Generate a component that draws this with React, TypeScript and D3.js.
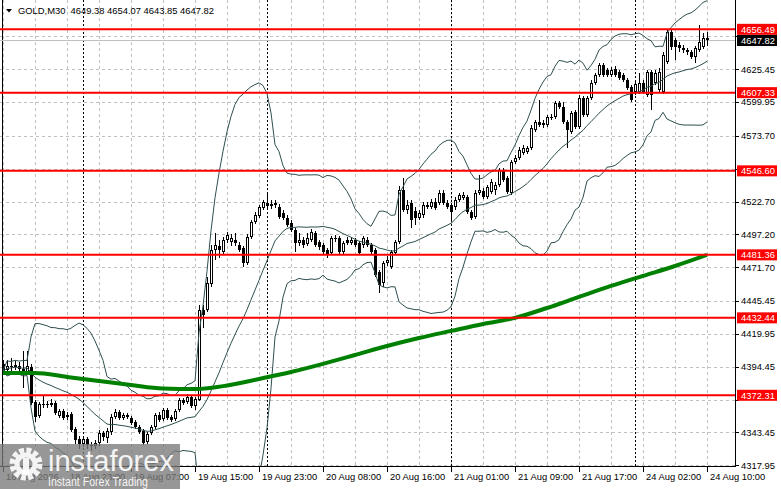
import { useEffect } from "react";
import * as d3 from "d3";

// GOLD M30, one entry per bar (oldest first)
const OPEN = [
  4396.7, 4392.0, 4395.1, 4394.3, 4395.1, 4392.8, 4390.4, 4394.3, 4367.1, 4356.3,
  4364.8, 4365.6, 4364.8, 4366.4, 4356.3, 4360.1, 4355.5, 4357.8, 4346.2, 4338.4,
  4334.5, 4338.4, 4333.7, 4332.9, 4335.3, 4343.1, 4339.2, 4343.8, 4355.5, 4359.4,
  4354.7, 4357.1, 4354.7, 4351.6, 4347.7, 4344.6, 4336.0, 4343.1, 4347.7, 4357.1,
  4354.0, 4360.9, 4355.5, 4354.0, 4360.9, 4368.7, 4367.1, 4371.0, 4364.0, 4368.7,
  4438.6, 4438.6, 4458.8, 4485.2, 4488.3, 4483.6, 4492.9, 4491.4, 4492.9, 4489.0,
  4486.7, 4475.1, 4495.3, 4506.9, 4511.6, 4517.8, 4521.7, 4519.3, 4520.1, 4518.6,
  4513.9, 4510.0, 4506.1, 4500.7, 4490.6, 4492.9, 4489.8, 4492.9, 4498.4, 4491.4,
  4489.0, 4485.2, 4482.8, 4494.5, 4494.5, 4483.6, 4492.9, 4490.6, 4492.9, 4490.6,
  4489.0, 4492.9, 4489.0, 4485.2, 4468.1, 4459.5, 4475.1, 4472.0, 4482.8, 4491.4,
  4531.8, 4516.2, 4521.7, 4515.4, 4510.0, 4512.3, 4518.6, 4518.6, 4522.5, 4521.7,
  4529.4, 4521.7, 4520.1, 4518.6, 4524.0, 4525.6, 4526.3, 4514.7, 4510.8, 4529.4,
  4531.0, 4526.3, 4530.2, 4531.8, 4535.6, 4547.3, 4541.1, 4529.4, 4553.5, 4556.6,
  4560.5, 4561.3, 4564.4, 4578.4, 4584.6, 4583.8, 4582.2, 4587.7, 4588.4, 4599.3,
  4596.2, 4584.6, 4576.8, 4592.3, 4580.7, 4603.2, 4590.0, 4603.2, 4614.8, 4621.1,
  4628.8, 4624.9, 4621.1, 4625.7, 4623.4, 4621.1, 4617.2, 4611.7, 4607.9, 4607.9,
  4614.8, 4605.5, 4623.4, 4614.8, 4609.4, 4607.9, 4631.2, 4654.5, 4648.2, 4644.4,
  4642.0, 4640.5, 4638.9, 4635.0, 4640.5, 4642.8, 4649.38,
];
const HIGH = [
  4399.8, 4399.8, 4401.3, 4399.0, 4398.2, 4406.7, 4406.7, 4396.7, 4368.7, 4367.1,
  4371.8, 4367.9, 4369.5, 4367.9, 4361.7, 4361.7, 4359.4, 4359.4, 4347.7, 4340.7,
  4340.7, 4339.9, 4336.0, 4337.6, 4345.4, 4344.6, 4347.0, 4357.8, 4361.7, 4360.9,
  4358.6, 4358.6, 4356.3, 4353.2, 4349.3, 4346.2, 4343.8, 4349.3, 4358.6, 4359.4,
  4362.5, 4362.5, 4357.1, 4361.7, 4370.3, 4370.3, 4373.4, 4372.6, 4371.0, 4442.5,
  4442.5, 4464.2, 4489.0, 4498.4, 4492.9, 4495.3, 4499.1, 4497.6, 4498.4, 4491.4,
  4488.3, 4497.6, 4508.5, 4514.7, 4520.1, 4524.0, 4528.7, 4524.0, 4524.0, 4520.9,
  4516.2, 4512.3, 4508.5, 4502.3, 4498.4, 4495.3, 4498.4, 4501.5, 4500.0, 4492.9,
  4490.6, 4486.7, 4496.0, 4496.8, 4496.0, 4492.2, 4495.3, 4495.3, 4494.5, 4492.2,
  4496.0, 4495.3, 4490.6, 4486.7, 4469.6, 4476.6, 4480.5, 4485.2, 4492.9, 4534.9,
  4541.1, 4524.0, 4524.0, 4518.6, 4516.2, 4522.5, 4522.5, 4524.8, 4525.6, 4531.8,
  4531.8, 4524.0, 4521.7, 4526.3, 4529.4, 4530.2, 4527.9, 4516.2, 4531.8, 4543.4,
  4533.3, 4535.6, 4540.3, 4538.0, 4548.9, 4548.9, 4542.6, 4555.1, 4558.9, 4565.2,
  4566.7, 4565.9, 4582.2, 4586.1, 4601.7, 4586.1, 4590.0, 4590.8, 4600.9, 4600.9,
  4600.1, 4586.1, 4593.1, 4593.9, 4605.5, 4604.8, 4604.8, 4617.2, 4622.6, 4630.4,
  4630.4, 4626.5, 4627.3, 4628.0, 4624.9, 4622.6, 4618.7, 4613.3, 4617.2, 4622.6,
  4617.2, 4624.9, 4624.9, 4624.9, 4626.5, 4638.9, 4656.0, 4656.0, 4649.8, 4646.7,
  4644.4, 4642.0, 4640.5, 4643.6, 4659.9, 4653.7, 4654.07,
];
const LOW = [
  4388.9, 4390.4, 4391.2, 4392.0, 4390.4, 4378.0, 4388.9, 4364.8, 4351.6, 4354.7,
  4362.5, 4362.5, 4363.3, 4357.1, 4354.7, 4353.2, 4353.2, 4343.8, 4334.5, 4330.7,
  4332.2, 4330.7, 4329.1, 4330.7, 4332.9, 4336.8, 4335.3, 4341.5, 4354.0, 4353.2,
  4353.2, 4354.0, 4349.3, 4346.2, 4342.3, 4333.7, 4334.5, 4341.5, 4346.2, 4351.6,
  4352.4, 4353.2, 4351.6, 4352.4, 4359.4, 4364.8, 4365.6, 4362.5, 4360.9, 4367.9,
  4424.6, 4437.0, 4456.4, 4477.4, 4479.0, 4482.1, 4490.6, 4488.3, 4488.3, 4483.6,
  4472.0, 4473.5, 4493.7, 4505.4, 4510.0, 4516.2, 4517.8, 4517.0, 4517.8, 4509.3,
  4508.5, 4503.0, 4499.1, 4483.6, 4488.3, 4486.7, 4488.3, 4491.4, 4487.5, 4485.2,
  4481.3, 4479.0, 4481.3, 4491.4, 4482.1, 4482.1, 4489.0, 4489.0, 4487.5, 4481.3,
  4486.7, 4487.5, 4482.1, 4464.2, 4451.8, 4456.4, 4472.7, 4470.4, 4481.3, 4489.8,
  4514.7, 4513.1, 4502.3, 4504.6, 4508.5, 4510.0, 4517.0, 4517.0, 4516.2, 4520.1,
  4520.1, 4517.0, 4508.5, 4516.2, 4522.5, 4524.0, 4513.1, 4508.5, 4509.3, 4527.9,
  4524.8, 4524.8, 4528.7, 4527.9, 4534.1, 4538.0, 4528.7, 4527.9, 4551.9, 4555.1,
  4558.9, 4559.7, 4562.8, 4576.8, 4580.7, 4579.9, 4580.7, 4586.1, 4586.9, 4594.7,
  4583.0, 4564.4, 4575.3, 4579.1, 4579.1, 4588.4, 4588.4, 4601.7, 4613.3, 4619.5,
  4619.5, 4619.5, 4619.5, 4619.5, 4617.2, 4615.6, 4609.4, 4600.1, 4605.5, 4606.3,
  4606.3, 4604.0, 4593.9, 4613.3, 4607.9, 4606.3, 4629.6, 4640.5, 4632.7, 4638.9,
  4638.1, 4636.6, 4633.5, 4630.4, 4638.9, 4641.3, 4643.85,
];
const CLOSE = [
  4391.2, 4395.1, 4394.3, 4395.9, 4392.8, 4390.4, 4395.1, 4366.4, 4355.5, 4365.6,
  4365.6, 4364.8, 4366.4, 4358.6, 4360.1, 4354.7, 4357.1, 4345.4, 4337.6, 4334.5,
  4338.4, 4333.7, 4332.9, 4335.3, 4343.1, 4340.0, 4344.6, 4355.5, 4359.4, 4354.7,
  4357.1, 4355.5, 4350.8, 4347.7, 4343.8, 4335.3, 4342.3, 4347.7, 4357.1, 4353.2,
  4360.9, 4354.7, 4353.2, 4360.1, 4368.7, 4366.4, 4371.0, 4364.0, 4369.5, 4438.6,
  4434.7, 4459.5, 4485.2, 4489.0, 4485.2, 4492.9, 4496.8, 4494.5, 4490.6, 4485.2,
  4475.1, 4495.3, 4506.9, 4512.3, 4518.6, 4522.5, 4519.3, 4520.9, 4521.7, 4510.8,
  4510.0, 4504.6, 4500.7, 4490.6, 4492.9, 4489.0, 4494.5, 4499.1, 4489.0, 4487.5,
  4483.6, 4481.3, 4494.5, 4493.7, 4483.6, 4490.6, 4490.6, 4492.9, 4489.0, 4482.8,
  4494.5, 4489.0, 4483.6, 4465.8, 4458.0, 4475.1, 4477.4, 4483.6, 4491.4, 4531.8,
  4516.2, 4520.1, 4508.5, 4510.0, 4513.9, 4520.1, 4520.1, 4522.5, 4517.8, 4529.4,
  4521.7, 4518.6, 4514.7, 4524.0, 4527.9, 4527.9, 4514.7, 4510.0, 4529.4, 4531.8,
  4526.3, 4534.1, 4538.0, 4535.6, 4547.3, 4539.5, 4530.2, 4553.5, 4556.6, 4562.8,
  4564.4, 4564.4, 4579.9, 4584.6, 4582.2, 4582.2, 4588.4, 4588.4, 4599.3, 4596.2,
  4584.6, 4578.4, 4591.6, 4580.7, 4603.2, 4590.0, 4603.2, 4614.8, 4621.1, 4628.8,
  4621.1, 4621.1, 4624.9, 4621.1, 4618.7, 4617.2, 4611.0, 4601.7, 4614.1, 4614.8,
  4607.9, 4623.4, 4605.5, 4622.6, 4623.4, 4636.6, 4654.5, 4642.8, 4642.8, 4642.0,
  4640.5, 4638.9, 4635.0, 4642.0, 4646.7, 4649.8, 4647.82,
];

// slow moving average, read every 8th bar
const MA_VALUES = [
  4389.7, 4389.7, 4386.6, 4383.4, 4380.3, 4377.6, 4377.2, 4379.9, 4385.0, 4390.4,
  4396.7, 4403.6, 4410.6, 4416.8, 4422.3, 4427.7, 4432.4, 4440.1, 4448.7, 4457.2,
  4465.0, 4472.7, 4481.3,
];

const LEVELS = [4656.49, 4607.33, 4546.6, 4481.36, 4432.44, 4372.31];
const PRICE_TICKS = [
  4650.95, 4625.45, 4599.95, 4573.7, 4548.2, 4522.7, 4497.2, 4471.7, 4445.45,
  4419.95, 4394.45, 4368.95, 4343.45, 4317.95,
];
// one label every 16 bars
const TIME_LABELS = [
  "18 Aug 2026", "18 Aug 23:00", "19 Aug 07:00", "19 Aug 15:00", "19 Aug 23:00",
  "20 Aug 08:00", "20 Aug 16:00", "21 Aug 01:00", "21 Aug 09:00", "21 Aug 17:00",
  "24 Aug 02:00", "24 Aug 10:00",
];
const DAY_STARTS = [20, 66, 112, 158];
const HEADER = "GOLD,M30  4649.38 4654.07 4643.85 4647.82";

const W = 781;
const H = 489;
const PLOT_R = 735;
const PLOT_B = 467;
const FONT = "'Liberation Sans', Arial, sans-serif";
const FS = 9.4;
const GRID = "#c0c0c0";
const BAND = "#2f4f4f";

const last = CLOSE.length - 1;
const x = d3.scaleLinear().domain([0, last]).range([3, 707]);
const y = d3.scaleLinear().domain([4317.95, 4625.45]).range([465.3, 69.3]);
const cx = (i: number) => Math.round(x(i)) + 0.5;

function bollinger(closes: number[], period: number, k: number) {
  return closes.map((_, i) => {
    const w = closes.slice(Math.max(0, i - period + 1), i + 1);
    const m = d3.mean(w) as number;
    const sd = Math.sqrt(d3.mean(w, (v) => (v - m) * (v - m)) as number);
    return { i, mid: m, up: m + k * sd, lo: m - k * sd };
  });
}

function Candles() {
  return (
    <g>
      {CLOSE.map((c, i) => {
        const o = OPEN[i];
        const px = cx(i);
        const top = Math.round(y(Math.max(o, c)));
        const bot = Math.round(y(Math.min(o, c)));
        const bull = c >= o;
        const h = bot - top;
        return (
          <g key={i}>
            <line x1={px} x2={px} y1={Math.round(y(HIGH[i]))} y2={Math.round(y(LOW[i]))} stroke="#000" />
            {h < 2 ? (
              <rect x={px - 1.5} y={top} width={3} height={Math.max(1, h)} fill="#000" />
            ) : bull ? (
              <rect x={px - 1} y={top + 0.5} width={2} height={h - 1} fill="#fff" stroke="#000" />
            ) : (
              <rect x={px - 1.5} y={top} width={3} height={h} fill="#000" />
            )}
          </g>
        );
      })}
    </g>
  );
}

function Watermark() {
  return (
    <g>
      <rect x={0} y={444} width={180} height={45} fill="#7a7a7a" opacity={0.78} />
      <g fill="none" stroke="#fff" opacity={0.9}>
        <circle cx={26} cy={464} r={13} strokeWidth={7} strokeDasharray="4.6,2.2" />
        <circle cx={26} cy={464} r={9} strokeWidth={5} />
      </g>
      <rect x={23} y={458} width={6} height={16} fill="#fff" opacity={0.9} />
      <text x={48} y={471} fill="#fff" opacity={0.9} fontFamily={FONT} fontSize={29} textLength={126} lengthAdjust="spacingAndGlyphs">
        instaforex
      </text>
      <text x={48} y={486} fill="#fff" opacity={0.9} fontFamily={FONT} fontSize={12} textLength={100} lengthAdjust="spacingAndGlyphs">
        Instant Forex Trading
      </text>
    </g>
  );
}

export default function App() {
  useEffect(() => {
    document.body.style.margin = "0";
  }, []);

  const bands = bollinger(CLOSE, 20, 3);
  const bandLine = (key: "up" | "mid" | "lo") =>
    d3.line<{ i: number; mid: number; up: number; lo: number }>()
      .x((d) => x(d.i))
      .y((d) => y(d[key]))(bands) as string;

  const maLine = d3.line<number>()
    .x((_, k) => x(k * 8))
    .y((v) => y(v))
    .curve(d3.curveMonotoneX)(MA_VALUES) as string;

  const gridX = d3.range(0, last + 1, 8);
  const current = CLOSE[last];
  // axis prices covered by a tag are not printed
  const tags = [...LEVELS, current];
  const freeTicks = PRICE_TICKS.filter((p) => tags.every((t) => Math.abs(y(p) - y(t)) > 6));

  return (
    <svg width={W} height={H} style={{ display: "block", background: "#fff" }}>
      <defs>
        <clipPath id="plot">
          <rect x={0} y={0} width={PLOT_R} height={PLOT_B} />
        </clipPath>
      </defs>

      {/* grid */}
      <g stroke={GRID} strokeDasharray="3,3" shapeRendering="crispEdges">
        {gridX.map((i) => (
          <line key={i} x1={cx(i)} x2={cx(i)} y1={0} y2={PLOT_B} />
        ))}
        {PRICE_TICKS.map((p) => (
          <line key={p} x1={0} x2={PLOT_R} y1={Math.round(y(p)) + 0.5} y2={Math.round(y(p)) + 0.5} />
        ))}
      </g>
      <g stroke="#000" strokeDasharray="2,2" shapeRendering="crispEdges">
        {DAY_STARTS.map((i) => (
          <line key={i} x1={cx(i)} x2={cx(i)} y1={0} y2={PLOT_B} />
        ))}
      </g>
      <line x1={2.5} x2={2.5} y1={0} y2={PLOT_B} stroke="#000" />

      {/* current price line */}
      <line x1={0} x2={PLOT_R} y1={Math.round(y(current)) + 0.5} y2={Math.round(y(current)) + 0.5} stroke={GRID} />

      <g clipPath="url(#plot)">
        <Candles />
        <g fill="none" stroke={BAND} strokeWidth={1}>
          <path d={bandLine("up")} />
          <path d={bandLine("mid")} />
          <path d={bandLine("lo")} />
        </g>
        <path d={maLine} fill="none" stroke="#008000" strokeWidth={4} />
        {LEVELS.map((p) => (
          <line key={p} x1={0} x2={PLOT_R} y1={y(p)} y2={y(p)} stroke="#ff0000" strokeWidth={2} />
        ))}
      </g>

      {/* axes */}
      <g stroke="#000" shapeRendering="crispEdges">
        <line x1={PLOT_R + 0.5} x2={PLOT_R + 0.5} y1={0} y2={PLOT_B} />
        <line x1={0} x2={PLOT_R + 0.5} y1={PLOT_B - 0.5} y2={PLOT_B - 0.5} />
        {PRICE_TICKS.map((p) => (
          <line key={p} x1={PLOT_R} x2={PLOT_R + 4} y1={Math.round(y(p)) + 0.5} y2={Math.round(y(p)) + 0.5} />
        ))}
        {TIME_LABELS.map((_, k) => (
          <line key={k} x1={cx(k * 16)} x2={cx(k * 16)} y1={PLOT_B} y2={PLOT_B + 5} />
        ))}
      </g>

      <g fontFamily={FONT} fontSize={FS} fill="#000">
        {freeTicks.map((p) => (
          <text key={p} x={741} y={y(p)} dy="0.35em">
            {p.toFixed(2)}
          </text>
        ))}
        {TIME_LABELS.map((t, k) => (
          <text key={t} x={cx(k * 16) + 2.5} y={480}>
            {t}
          </text>
        ))}
      </g>

      {/* level tags */}
      <g fontFamily={FONT} fontSize={FS}>
        {LEVELS.map((p) => (
          <g key={p}>
            <rect x={737} y={y(p) - 5.5} width={40} height={11} fill="#ff0000" />
            <text x={741} y={y(p)} dy="0.35em" fill="#fff">
              {p.toFixed(2)}
            </text>
          </g>
        ))}
        <rect x={737} y={y(current) - 5.5} width={40} height={11} fill="#000" />
        <text x={741} y={y(current)} dy="0.35em" fill="#fff">
          {current.toFixed(2)}
        </text>
      </g>

      {/* header */}
      <polygon points="6,9 12,9 9,12.5" fill="#000" />
      <text x={18} y={14} fontFamily={FONT} fontSize={FS} fill="#000" xmlSpace="preserve">
        {HEADER}
      </text>

      <Watermark />
    </svg>
  );
}
